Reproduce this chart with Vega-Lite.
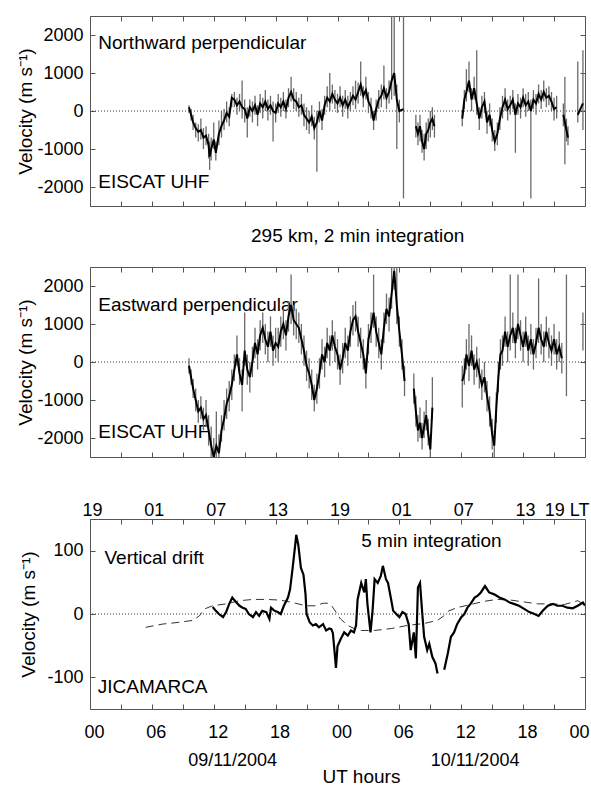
{
"$schema": "https://vega.github.io/schema/vega-lite/v6.json",
"padding": {"left": 15, "top": 15, "right": 0, "bottom": 0},
"background": "white",
"config": {
 "font": "Liberation Sans",
 "view": {"stroke": "#555555", "strokeWidth": 1},
 "axis": {"domain": false, "grid": false, "ticks": true, "tickSize": -5, "tickColor": "#555555", "labelFont": "Liberation Sans", "labelFontSize": 18, "labelColor": "black", "titleFont": "Liberation Sans", "titleFontSize": 19, "titleFontWeight": "normal", "titleColor": "black", "labelOverlap": false, "labelFlush": false},
 "title": {"font": "Liberation Sans", "fontSize": 19, "fontWeight": "normal", "color": "black"}
},
"datasets": {
 "north": [
  {"t":9.6,"v":100,"lo":-50,"hi":150,"s":1},{"t":9.8,"v":-100,"lo":-250,"hi":50,"s":1},{"t":10.0,"v":-300,"lo":-500,"hi":-100,"s":1},{"t":10.25,"v":-450,"lo":-700,"hi":-300,"s":1},{"t":10.5,"v":-550,"lo":-800,"hi":-350,"s":1},{"t":10.75,"v":-500,"lo":-750,"hi":-200,"s":1},{"t":11.0,"v":-700,"lo":-1000,"hi":-450,"s":1},{"t":11.25,"v":-650,"lo":-900,"hi":-400,"s":1},{"t":11.5,"v":-900,"lo":-1250,"hi":-600,"s":1},{"t":11.6,"v":-1200,"lo":-1550,"hi":-800,"s":1},{"t":11.75,"v":-1000,"lo":-1300,"hi":-700,"s":1},{"t":12.0,"v":-750,"lo":-1000,"hi":-300,"s":1},{"t":12.2,"v":-1100,"lo":-1300,"hi":-800,"s":1},{"t":12.5,"v":-600,"lo":-900,"hi":-250,"s":1},{"t":12.75,"v":-400,"lo":-700,"hi":0,"s":1},{"t":13.0,"v":-250,"lo":-500,"hi":50,"s":1},{"t":13.25,"v":-50,"lo":-300,"hi":250,"s":1},{"t":13.5,"v":-150,"lo":-400,"hi":100,"s":1},{"t":13.75,"v":350,"lo":100,"hi":450,"s":1},{"t":14.0,"v":300,"lo":100,"hi":500,"s":1},{"t":14.25,"v":150,"lo":-100,"hi":350,"s":1},{"t":14.5,"v":250,"lo":0,"hi":450,"s":1},{"t":14.75,"v":100,"lo":-200,"hi":800,"s":1},{"t":15.0,"v":50,"lo":-300,"hi":300,"s":1},{"t":15.25,"v":-200,"lo":-700,"hi":100,"s":1},{"t":15.5,"v":100,"lo":-150,"hi":300,"s":1},{"t":15.75,"v":0,"lo":-300,"hi":250,"s":1},{"t":16.0,"v":150,"lo":-100,"hi":400,"s":1},{"t":16.25,"v":-100,"lo":-400,"hi":150,"s":1},{"t":16.5,"v":200,"lo":-50,"hi":450,"s":1},{"t":16.75,"v":100,"lo":-200,"hi":350,"s":1},{"t":17.0,"v":250,"lo":0,"hi":550,"s":1},{"t":17.25,"v":50,"lo":-250,"hi":300,"s":1},{"t":17.5,"v":150,"lo":-100,"hi":400,"s":1},{"t":17.75,"v":0,"lo":-800,"hi":250,"s":1},{"t":18.0,"v":-50,"lo":-300,"hi":200,"s":1},{"t":18.25,"v":200,"lo":-50,"hi":450,"s":1},{"t":18.5,"v":100,"lo":-150,"hi":350,"s":1},{"t":18.75,"v":250,"lo":0,"hi":500,"s":1},{"t":19.0,"v":50,"lo":-200,"hi":300,"s":1},{"t":19.25,"v":350,"lo":100,"hi":600,"s":1},{"t":19.5,"v":500,"lo":250,"hi":900,"s":1},{"t":19.75,"v":300,"lo":50,"hi":600,"s":1},{"t":20.0,"v":250,"lo":0,"hi":500,"s":1},{"t":20.25,"v":100,"lo":-150,"hi":350,"s":1},{"t":20.5,"v":150,"lo":-100,"hi":450,"s":1},{"t":20.75,"v":-100,"lo":-400,"hi":200,"s":1},{"t":21.0,"v":-200,"lo":-500,"hi":100,"s":1},{"t":21.25,"v":-300,"lo":-600,"hi":0,"s":1},{"t":21.5,"v":-150,"lo":-400,"hi":150,"s":1},{"t":21.75,"v":-450,"lo":-750,"hi":-150,"s":1},{"t":22.0,"v":-300,"lo":-1600,"hi":0,"s":1},{"t":22.25,"v":0,"lo":-300,"hi":250,"s":1},{"t":22.5,"v":-250,"lo":-500,"hi":50,"s":1},{"t":22.75,"v":150,"lo":-100,"hi":400,"s":1},{"t":23.0,"v":350,"lo":100,"hi":650,"s":1},{"t":23.25,"v":250,"lo":0,"hi":1000,"s":1},{"t":23.5,"v":450,"lo":200,"hi":700,"s":1},{"t":23.75,"v":300,"lo":50,"hi":550,"s":1},{"t":24.0,"v":200,"lo":-50,"hi":450,"s":1},{"t":24.25,"v":350,"lo":100,"hi":650,"s":1},{"t":24.5,"v":150,"lo":-150,"hi":400,"s":1},{"t":24.75,"v":300,"lo":50,"hi":550,"s":1},{"t":25.0,"v":100,"lo":-200,"hi":400,"s":1},{"t":25.25,"v":250,"lo":0,"hi":500,"s":1},{"t":25.5,"v":400,"lo":150,"hi":650,"s":1},{"t":25.75,"v":300,"lo":50,"hi":800,"s":1},{"t":26.0,"v":500,"lo":200,"hi":750,"s":1},{"t":26.25,"v":700,"lo":400,"hi":1300,"s":1},{"t":26.5,"v":400,"lo":100,"hi":650,"s":1},{"t":26.75,"v":550,"lo":300,"hi":900,"s":1},{"t":27.0,"v":250,"lo":-50,"hi":500,"s":1},{"t":27.25,"v":100,"lo":-200,"hi":350,"s":1},{"t":27.5,"v":-250,"lo":-500,"hi":0,"s":1},{"t":27.75,"v":50,"lo":-250,"hi":300,"s":1},{"t":28.0,"v":300,"lo":50,"hi":550,"s":1},{"t":28.25,"v":400,"lo":100,"hi":700,"s":1},{"t":28.5,"v":600,"lo":300,"hi":1200,"s":1},{"t":28.75,"v":350,"lo":50,"hi":600,"s":1},{"t":29.0,"v":500,"lo":200,"hi":800,"s":1},{"t":29.25,"v":800,"lo":300,"hi":2500,"s":1},{"t":29.5,"v":1000,"lo":400,"hi":2500,"s":1},{"t":29.75,"v":300,"lo":-1000,"hi":700,"s":1},{"t":30.0,"v":0,"lo":-300,"hi":300,"s":1},{"t":30.4,"v":50,"lo":-2300,"hi":2500,"s":1},
  {"t":31.6,"v":-400,"lo":-700,"hi":-100,"s":2},{"t":31.8,"v":-600,"lo":-900,"hi":-300,"s":2},{"t":32.0,"v":-400,"lo":-800,"hi":-100,"s":2},{"t":32.2,"v":-800,"lo":-1100,"hi":-500,"s":2},{"t":32.4,"v":-1000,"lo":-1300,"hi":-600,"s":2},{"t":32.6,"v":-600,"lo":-1000,"hi":-300,"s":2},{"t":32.8,"v":-500,"lo":-800,"hi":-200,"s":2},{"t":33.0,"v":-300,"lo":-700,"hi":0,"s":2},{"t":33.2,"v":-200,"lo":-500,"hi":100,"s":2},{"t":33.4,"v":-400,"lo":-700,"hi":-100,"s":2},
  {"t":36.1,"v":-200,"lo":-400,"hi":0,"s":3},{"t":36.3,"v":300,"lo":50,"hi":550,"s":3},{"t":36.5,"v":500,"lo":250,"hi":1100,"s":3},{"t":36.75,"v":800,"lo":500,"hi":1300,"s":3},{"t":37.0,"v":300,"lo":0,"hi":600,"s":3},{"t":37.25,"v":600,"lo":300,"hi":900,"s":3},{"t":37.5,"v":200,"lo":-100,"hi":1600,"s":3},{"t":37.75,"v":-200,"lo":-500,"hi":100,"s":3},{"t":38.0,"v":100,"lo":-200,"hi":400,"s":3},{"t":38.25,"v":250,"lo":-50,"hi":500,"s":3},{"t":38.5,"v":-300,"lo":-600,"hi":0,"s":3},{"t":38.75,"v":-100,"lo":-400,"hi":200,"s":3},{"t":39.0,"v":-500,"lo":-800,"hi":-200,"s":3},{"t":39.25,"v":-800,"lo":-1050,"hi":-500,"s":3},{"t":39.5,"v":-600,"lo":-900,"hi":-300,"s":3},{"t":39.75,"v":-200,"lo":-500,"hi":100,"s":3},{"t":40.0,"v":100,"lo":-200,"hi":400,"s":3},{"t":40.25,"v":300,"lo":0,"hi":600,"s":3},{"t":40.5,"v":50,"lo":-250,"hi":300,"s":3},{"t":40.75,"v":150,"lo":-100,"hi":400,"s":3},{"t":41.0,"v":300,"lo":50,"hi":550,"s":3},{"t":41.25,"v":-100,"lo":-1100,"hi":200,"s":3},{"t":41.5,"v":200,"lo":-100,"hi":450,"s":3},{"t":41.75,"v":100,"lo":-200,"hi":350,"s":3},{"t":42.0,"v":350,"lo":100,"hi":600,"s":3},{"t":42.25,"v":150,"lo":-150,"hi":450,"s":3},{"t":42.5,"v":250,"lo":0,"hi":500,"s":3},{"t":42.75,"v":0,"lo":-2300,"hi":300,"s":3},{"t":43.0,"v":300,"lo":50,"hi":550,"s":3},{"t":43.25,"v":200,"lo":-100,"hi":450,"s":3},{"t":43.5,"v":450,"lo":200,"hi":700,"s":3},{"t":43.75,"v":300,"lo":50,"hi":550,"s":3},{"t":44.0,"v":500,"lo":250,"hi":800,"s":3},{"t":44.25,"v":350,"lo":100,"hi":600,"s":3},{"t":44.5,"v":400,"lo":150,"hi":650,"s":3},{"t":44.75,"v":250,"lo":0,"hi":500,"s":3},{"t":45.0,"v":50,"lo":-250,"hi":350,"s":3},{"t":45.25,"v":100,"lo":-200,"hi":400,"s":3},
  {"t":45.9,"v":-100,"lo":-400,"hi":200,"s":4},{"t":46.05,"v":-300,"lo":-1400,"hi":900,"s":4},{"t":46.2,"v":-500,"lo":-800,"hi":-200,"s":4},{"t":46.35,"v":-700,"lo":-900,"hi":-400,"s":4},
  {"t":47.3,"v":-100,"lo":-300,"hi":1300,"s":5},{"t":47.8,"v":200,"lo":-500,"hi":1600,"s":5}
 ],
 "east": [
  {"t":9.6,"v":-100,"lo":-300,"hi":100,"s":1},{"t":9.8,"v":-400,"lo":-600,"hi":-200,"s":1},{"t":10.0,"v":-700,"lo":-950,"hi":-450,"s":1},{"t":10.25,"v":-1000,"lo":-1300,"hi":-700,"s":1},{"t":10.5,"v":-1300,"lo":-1600,"hi":-1000,"s":1},{"t":10.75,"v":-1200,"lo":-1500,"hi":-900,"s":1},{"t":11.0,"v":-1500,"lo":-1800,"hi":-1200,"s":1},{"t":11.25,"v":-1400,"lo":-1700,"hi":-1000,"s":1},{"t":11.5,"v":-1800,"lo":-2200,"hi":-1400,"s":1},{"t":11.75,"v":-2200,"lo":-2500,"hi":-1700,"s":1},{"t":12.0,"v":-2500,"lo":-2500,"hi":-2000,"s":1},{"t":12.25,"v":-2200,"lo":-2500,"hi":-1300,"s":1},{"t":12.5,"v":-2400,"lo":-2500,"hi":-1900,"s":1},{"t":12.75,"v":-1800,"lo":-2100,"hi":-1400,"s":1},{"t":13.0,"v":-1500,"lo":-1800,"hi":-1000,"s":1},{"t":13.25,"v":-1100,"lo":-1500,"hi":-700,"s":1},{"t":13.5,"v":-900,"lo":-1300,"hi":-500,"s":1},{"t":13.75,"v":-600,"lo":-1000,"hi":-200,"s":1},{"t":14.0,"v":-200,"lo":-500,"hi":200,"s":1},{"t":14.25,"v":200,"lo":-100,"hi":700,"s":1},{"t":14.5,"v":-300,"lo":-600,"hi":100,"s":1},{"t":14.75,"v":-600,"lo":-1300,"hi":-200,"s":1},{"t":15.0,"v":300,"lo":-100,"hi":1300,"s":1},{"t":15.25,"v":-200,"lo":-600,"hi":200,"s":1},{"t":15.5,"v":-400,"lo":-800,"hi":0,"s":1},{"t":15.75,"v":0,"lo":-400,"hi":400,"s":1},{"t":16.0,"v":500,"lo":100,"hi":900,"s":1},{"t":16.25,"v":200,"lo":-200,"hi":600,"s":1},{"t":16.5,"v":700,"lo":300,"hi":1100,"s":1},{"t":16.75,"v":900,"lo":500,"hi":1300,"s":1},{"t":17.0,"v":600,"lo":200,"hi":1000,"s":1},{"t":17.25,"v":400,"lo":0,"hi":800,"s":1},{"t":17.5,"v":800,"lo":400,"hi":1200,"s":1},{"t":17.75,"v":300,"lo":-100,"hi":700,"s":1},{"t":18.0,"v":500,"lo":100,"hi":900,"s":1},{"t":18.25,"v":400,"lo":0,"hi":900,"s":1},{"t":18.5,"v":800,"lo":400,"hi":1200,"s":1},{"t":18.75,"v":1000,"lo":600,"hi":1400,"s":1},{"t":19.0,"v":700,"lo":300,"hi":1100,"s":1},{"t":19.25,"v":1200,"lo":800,"hi":1600,"s":1},{"t":19.5,"v":1500,"lo":1000,"hi":2300,"s":1},{"t":19.75,"v":1100,"lo":700,"hi":1500,"s":1},{"t":20.0,"v":1000,"lo":600,"hi":1400,"s":1},{"t":20.25,"v":900,"lo":500,"hi":1300,"s":1},{"t":20.5,"v":600,"lo":200,"hi":1000,"s":1},{"t":20.75,"v":300,"lo":-100,"hi":700,"s":1},{"t":21.0,"v":-100,"lo":-500,"hi":300,"s":1},{"t":21.25,"v":-300,"lo":-700,"hi":100,"s":1},{"t":21.5,"v":-600,"lo":-1000,"hi":-200,"s":1},{"t":21.75,"v":-1000,"lo":-1300,"hi":-600,"s":1},{"t":22.0,"v":-700,"lo":-1100,"hi":-300,"s":1},{"t":22.25,"v":-300,"lo":-700,"hi":100,"s":1},{"t":22.5,"v":200,"lo":-200,"hi":600,"s":1},{"t":22.75,"v":0,"lo":-400,"hi":400,"s":1},{"t":23.0,"v":500,"lo":100,"hi":900,"s":1},{"t":23.25,"v":300,"lo":-100,"hi":700,"s":1},{"t":23.5,"v":700,"lo":300,"hi":1100,"s":1},{"t":23.75,"v":400,"lo":0,"hi":800,"s":1},{"t":24.0,"v":200,"lo":-200,"hi":600,"s":1},{"t":24.25,"v":-200,"lo":-600,"hi":200,"s":1},{"t":24.5,"v":100,"lo":-300,"hi":500,"s":1},{"t":24.75,"v":500,"lo":100,"hi":900,"s":1},{"t":25.0,"v":300,"lo":-100,"hi":700,"s":1},{"t":25.25,"v":800,"lo":400,"hi":1200,"s":1},{"t":25.5,"v":1100,"lo":700,"hi":1500,"s":1},{"t":25.75,"v":1200,"lo":800,"hi":1600,"s":1},{"t":26.0,"v":800,"lo":400,"hi":1200,"s":1},{"t":26.25,"v":500,"lo":100,"hi":900,"s":1},{"t":26.5,"v":200,"lo":-200,"hi":600,"s":1},{"t":26.75,"v":-300,"lo":-700,"hi":100,"s":1},{"t":27.0,"v":600,"lo":200,"hi":1000,"s":1},{"t":27.25,"v":900,"lo":500,"hi":1300,"s":1},{"t":27.5,"v":1300,"lo":900,"hi":2300,"s":1},{"t":27.75,"v":800,"lo":400,"hi":1200,"s":1},{"t":28.0,"v":500,"lo":100,"hi":900,"s":1},{"t":28.25,"v":200,"lo":-200,"hi":600,"s":1},{"t":28.5,"v":900,"lo":500,"hi":1300,"s":1},{"t":28.75,"v":1400,"lo":1000,"hi":1800,"s":1},{"t":29.0,"v":1200,"lo":800,"hi":1700,"s":1},{"t":29.25,"v":1800,"lo":1400,"hi":2500,"s":1},{"t":29.5,"v":2400,"lo":1900,"hi":2500,"s":1},{"t":29.75,"v":1500,"lo":1000,"hi":2500,"s":1},{"t":30.0,"v":800,"lo":400,"hi":1200,"s":1},{"t":30.25,"v":200,"lo":-200,"hi":600,"s":1},{"t":30.5,"v":-500,"lo":-900,"hi":-100,"s":1},
  {"t":31.4,"v":-700,"lo":-1100,"hi":-300,"s":2},{"t":31.6,"v":-1300,"lo":-1700,"hi":-900,"s":2},{"t":31.8,"v":-1800,"lo":-2100,"hi":-1400,"s":2},{"t":32.0,"v":-1600,"lo":-2000,"hi":-1200,"s":2},{"t":32.2,"v":-2000,"lo":-2300,"hi":-1600,"s":2},{"t":32.4,"v":-1700,"lo":-2000,"hi":-1300,"s":2},{"t":32.6,"v":-1400,"lo":-1800,"hi":-1000,"s":2},{"t":32.8,"v":-1900,"lo":-2200,"hi":-1500,"s":2},{"t":33.0,"v":-2300,"lo":-2500,"hi":-1900,"s":2},{"t":33.2,"v":-1200,"lo":-1500,"hi":-400,"s":2},
  {"t":36.1,"v":-500,"lo":-1200,"hi":-100,"s":3},{"t":36.3,"v":-300,"lo":-600,"hi":100,"s":3},{"t":36.5,"v":200,"lo":-200,"hi":600,"s":3},{"t":36.75,"v":-100,"lo":-500,"hi":1000,"s":3},{"t":37.0,"v":300,"lo":-100,"hi":700,"s":3},{"t":37.25,"v":-200,"lo":-600,"hi":200,"s":3},{"t":37.5,"v":0,"lo":-400,"hi":400,"s":3},{"t":37.75,"v":-300,"lo":-700,"hi":100,"s":3},{"t":38.0,"v":-600,"lo":-1000,"hi":-200,"s":3},{"t":38.25,"v":-400,"lo":-800,"hi":0,"s":3},{"t":38.5,"v":-900,"lo":-1300,"hi":-500,"s":3},{"t":38.75,"v":-1300,"lo":-1700,"hi":-900,"s":3},{"t":39.0,"v":-1900,"lo":-2300,"hi":-1500,"s":3},{"t":39.2,"v":-2200,"lo":-2500,"hi":-1800,"s":3},{"t":39.4,"v":-1200,"lo":-1600,"hi":-800,"s":3},{"t":39.6,"v":-400,"lo":-800,"hi":0,"s":3},{"t":39.8,"v":200,"lo":-200,"hi":600,"s":3},{"t":40.0,"v":300,"lo":-100,"hi":700,"s":3},{"t":40.25,"v":800,"lo":400,"hi":1200,"s":3},{"t":40.5,"v":400,"lo":0,"hi":800,"s":3},{"t":40.75,"v":700,"lo":300,"hi":2300,"s":3},{"t":41.0,"v":900,"lo":500,"hi":1300,"s":3},{"t":41.25,"v":500,"lo":100,"hi":900,"s":3},{"t":41.5,"v":1000,"lo":600,"hi":2300,"s":3},{"t":41.75,"v":700,"lo":300,"hi":1100,"s":3},{"t":42.0,"v":400,"lo":0,"hi":800,"s":3},{"t":42.25,"v":800,"lo":400,"hi":1200,"s":3},{"t":42.5,"v":300,"lo":-100,"hi":700,"s":3},{"t":42.75,"v":600,"lo":200,"hi":1000,"s":3},{"t":43.0,"v":200,"lo":-200,"hi":600,"s":3},{"t":43.25,"v":500,"lo":100,"hi":900,"s":3},{"t":43.5,"v":900,"lo":500,"hi":2200,"s":3},{"t":43.75,"v":600,"lo":200,"hi":1000,"s":3},{"t":44.0,"v":400,"lo":0,"hi":800,"s":3},{"t":44.25,"v":800,"lo":400,"hi":1200,"s":3},{"t":44.5,"v":500,"lo":100,"hi":900,"s":3},{"t":44.75,"v":300,"lo":-100,"hi":700,"s":3},{"t":45.0,"v":600,"lo":200,"hi":1000,"s":3},{"t":45.25,"v":200,"lo":-200,"hi":600,"s":3},{"t":45.5,"v":400,"lo":0,"hi":800,"s":3},{"t":45.75,"v":100,"lo":-300,"hi":500,"s":3},
  {"t":46.2,"v":500,"lo":-900,"hi":2300,"s":4},
  {"t":47.8,"v":1000,"lo":300,"hi":1300,"s":5}
 ],
 "drift": [
  {"t":11.9,"v":11,"s":1},{"t":12.2,"v":5,"s":1},{"t":12.5,"v":0,"s":1},{"t":12.9,"v":-5,"s":1},{"t":13.2,"v":3,"s":1},{"t":13.5,"v":16,"s":1},{"t":13.8,"v":26,"s":1},{"t":14.2,"v":18,"s":1},{"t":14.5,"v":13,"s":1},{"t":14.8,"v":10,"s":1},{"t":15.1,"v":8,"s":1},{"t":15.4,"v":0,"s":1},{"t":15.8,"v":-5,"s":1},{"t":16.1,"v":3,"s":1},{"t":16.4,"v":-3,"s":1},{"t":16.7,"v":5,"s":1},{"t":17.1,"v":3,"s":1},{"t":17.4,"v":-8,"s":1},{"t":17.55,"v":10,"s":1},{"t":17.9,"v":5,"s":1},{"t":18.2,"v":3,"s":1},{"t":18.5,"v":0,"s":1},{"t":18.8,"v":13,"s":1},{"t":19.2,"v":26,"s":1},{"t":19.4,"v":39,"s":1},{"t":19.65,"v":73,"s":1},{"t":19.9,"v":109,"s":1},{"t":20.0,"v":125,"s":1},{"t":20.2,"v":109,"s":1},{"t":20.45,"v":73,"s":1},{"t":20.7,"v":62,"s":1},{"t":20.9,"v":31,"s":1},{"t":21.0,"v":0,"s":1},{"t":21.3,"v":-13,"s":1},{"t":21.6,"v":-18,"s":1},{"t":21.9,"v":-16,"s":1},{"t":22.2,"v":-21,"s":1},{"t":22.6,"v":-16,"s":1},{"t":22.9,"v":-26,"s":1},{"t":23.2,"v":-23,"s":1},{"t":23.4,"v":-24,"s":1},{"t":23.55,"v":-30,"s":1},{"t":23.7,"v":-57,"s":1},{"t":23.85,"v":-85,"s":1},{"t":24.0,"v":-51,"s":1},{"t":24.3,"v":-40,"s":1},{"t":24.65,"v":-29,"s":1},{"t":25.0,"v":-34,"s":1},{"t":25.3,"v":-26,"s":1},{"t":25.6,"v":-29,"s":1},{"t":25.8,"v":-18,"s":1},{"t":25.95,"v":23,"s":1},{"t":26.3,"v":49,"s":1},{"t":26.6,"v":34,"s":1},{"t":26.75,"v":55,"s":1},{"t":26.9,"v":16,"s":1},{"t":27.2,"v":-29,"s":1},{"t":27.4,"v":5,"s":1},{"t":27.6,"v":55,"s":1},{"t":27.9,"v":49,"s":1},{"t":28.2,"v":60,"s":1},{"t":28.4,"v":76,"s":1},{"t":28.7,"v":55,"s":1},{"t":28.9,"v":49,"s":1},{"t":29.2,"v":23,"s":1},{"t":29.4,"v":5,"s":1},{"t":29.7,"v":0,"s":1},{"t":30.0,"v":-5,"s":1},{"t":30.3,"v":3,"s":1},{"t":30.6,"v":0,"s":1},{"t":30.9,"v":-16,"s":1},{"t":31.1,"v":-57,"s":1},{"t":31.4,"v":-29,"s":1},{"t":31.6,"v":-70,"s":1},{"t":31.8,"v":42,"s":1},{"t":32.0,"v":49,"s":1},{"t":32.2,"v":5,"s":1},{"t":32.4,"v":-36,"s":1},{"t":32.7,"v":-57,"s":1},{"t":32.9,"v":-47,"s":1},{"t":33.2,"v":-68,"s":1},{"t":33.5,"v":-78,"s":1},{"t":33.7,"v":-94,"s":1},
  {"t":34.35,"v":-88,"s":2},{"t":34.7,"v":-62,"s":2},{"t":35.0,"v":-36,"s":2},{"t":35.3,"v":-29,"s":2},{"t":35.6,"v":-16,"s":2},{"t":36.0,"v":-5,"s":2},{"t":36.3,"v":0,"s":2},{"t":36.6,"v":10,"s":2},{"t":36.9,"v":16,"s":2},{"t":37.3,"v":26,"s":2},{"t":37.6,"v":29,"s":2},{"t":37.9,"v":34,"s":2},{"t":38.3,"v":44,"s":2},{"t":38.7,"v":34,"s":2},{"t":39.2,"v":31,"s":2},{"t":39.7,"v":26,"s":2},{"t":40.2,"v":23,"s":2},{"t":40.7,"v":18,"s":2},{"t":41.1,"v":16,"s":2},{"t":41.6,"v":13,"s":2},{"t":42.1,"v":8,"s":2},{"t":42.6,"v":3,"s":2},{"t":43.1,"v":0,"s":2},{"t":43.5,"v":-3,"s":2},{"t":43.9,"v":5,"s":2},{"t":44.4,"v":13,"s":2},{"t":44.9,"v":16,"s":2},{"t":45.3,"v":13,"s":2},{"t":45.8,"v":13,"s":2},{"t":46.3,"v":10,"s":2},{"t":46.8,"v":9,"s":2},{"t":47.3,"v":13,"s":2},{"t":47.8,"v":18,"s":2},{"t":48.0,"v":13,"s":2}
 ],
 "model": [
  {"t":5.4,"v":-21},{"t":7.0,"v":-16},{"t":8.7,"v":-13},{"t":10.0,"v":-10},{"t":10.6,"v":-3},{"t":11.1,"v":8},{"t":11.9,"v":13},{"t":13.2,"v":16},{"t":14.5,"v":21},{"t":15.8,"v":23},{"t":17.1,"v":23},{"t":18.4,"v":22},{"t":19.7,"v":18},{"t":20.9,"v":13},{"t":21.9,"v":13},{"t":22.6,"v":17},{"t":23.0,"v":17},{"t":23.4,"v":14},{"t":23.85,"v":3},{"t":24.3,"v":-8},{"t":25.0,"v":-18},{"t":25.6,"v":-23},{"t":26.3,"v":-26},{"t":27.6,"v":-26},{"t":29.2,"v":-23},{"t":30.8,"v":-18},{"t":32.4,"v":-15},{"t":33.7,"v":-10},{"t":34.3,"v":-3},{"t":34.8,"v":5},{"t":35.6,"v":10},{"t":36.9,"v":15},{"t":38.2,"v":20},{"t":39.5,"v":23},{"t":40.8,"v":22},{"t":42.1,"v":19},{"t":43.4,"v":16},{"t":44.7,"v":16},{"t":46.0,"v":15},{"t":47.3,"v":21},{"t":47.6,"v":18},{"t":48.0,"v":15}
 ],
 "ann1": [{"t":0.8,"v":1780,"label":"Northward perpendicular"},{"t":0.8,"v":-1860,"label":"EISCAT UHF"}],
 "ann2": [{"t":0.8,"v":1490,"label":"Eastward perpendicular"},{"t":0.8,"v":-1840,"label":"EISCAT UHF"}],
 "ann3": [{"t":1.4,"v":89,"label":"Vertical drift"},{"t":0.75,"v":-116,"label":"JICAMARCA"},{"t":26.3,"v":116,"label":"5 min integration"}]
},
"spacing": 42,
"vconcat": [
 {
  "spacing": 19,
  "vconcat": [
   {
    "width": 495, "height": 190,
    "resolve": {"scale": {"x": "independent", "y": "independent"}},
    "layer": [
     {"data": {"name": "ann1"},
      "mark": {"type": "text", "align": "left", "baseline": "middle", "fontSize": 19, "font": "Liberation Sans", "color": "black"},
      "encoding": {
       "x": {"field": "t", "type": "quantitative", "scale": {"domain": [0, 48], "nice": false, "zero": false}, "axis": {"orient": "top", "values": [0,3,6,9,12,15,18,21,24,27,30,33,36,39,42,45,48], "labels": false, "title": null}},
       "y": {"field": "v", "type": "quantitative", "scale": {"domain": [-2500, 2500], "nice": false}, "axis": {"orient": "right", "values": [-2000,-1000,0,1000,2000], "labels": false, "title": null}},
       "text": {"field": "label"}
      }},
     {"data": {"values": [{}]},
      "mark": {"type": "rule", "color": "#333333", "strokeDash": [1, 2], "strokeWidth": 1},
      "encoding": {"y": {"datum": 0, "type": "quantitative", "scale": {"domain": [-2500, 2500], "nice": false}, "axis": null}}},
     {"data": {"name": "north"},
      "mark": {"type": "rule", "color": "#6a6a6a", "strokeWidth": 1.3, "clip": true},
      "encoding": {
       "x": {"field": "t", "type": "quantitative", "scale": {"domain": [0, 48], "nice": false, "zero": false}, "axis": {"orient": "bottom", "values": [0,3,6,9,12,15,18,21,24,27,30,33,36,39,42,45,48], "labels": false, "title": null}},
       "y": {"field": "lo", "type": "quantitative", "scale": {"domain": [-2500, 2500], "nice": false}, "axis": {"orient": "left", "values": [-2000,-1000,0,1000,2000], "labelExpr": "'' + datum.value", "labelPadding": 12, "title": "Velocity (m s⁻¹)", "titleX": -55, "titleAngle": 270, "titleBaseline": "bottom", "titleAlign": "center"}},
       "y2": {"field": "hi"}
      }},
     {"data": {"name": "north"},
      "mark": {"type": "line", "color": "black", "strokeWidth": 2, "clip": true},
      "encoding": {
       "x": {"field": "t", "type": "quantitative", "scale": {"domain": [0, 48], "nice": false, "zero": false}, "axis": null},
       "y": {"field": "v", "type": "quantitative", "scale": {"domain": [-2500, 2500], "nice": false}, "axis": null},
       "detail": {"field": "s", "type": "nominal"}
      }}
    ]
   },
   {
    "width": 495, "height": 190,
    "title": {"text": "295 km, 2 min integration", "anchor": "start", "dx": 235, "offset": 6, "baseline": "alphabetic", "fontSize": 19, "fontWeight": "normal", "color": "black"},
    "resolve": {"scale": {"x": "independent", "y": "independent"}},
    "layer": [
     {"data": {"name": "ann2"},
      "mark": {"type": "text", "align": "left", "baseline": "middle", "fontSize": 19, "font": "Liberation Sans", "color": "black"},
      "encoding": {
       "x": {"field": "t", "type": "quantitative", "scale": {"domain": [0, 48], "nice": false, "zero": false}, "axis": {"orient": "top", "values": [0,3,6,9,12,15,18,21,24,27,30,33,36,39,42,45,48], "labels": false, "title": null}},
       "y": {"field": "v", "type": "quantitative", "scale": {"domain": [-2500, 2500], "nice": false}, "axis": {"orient": "right", "values": [-2000,-1000,0,1000,2000], "labels": false, "title": null}},
       "text": {"field": "label"}
      }},
     {"data": {"values": [{}]},
      "mark": {"type": "rule", "color": "#333333", "strokeDash": [1, 2], "strokeWidth": 1},
      "encoding": {"y": {"datum": 0, "type": "quantitative", "scale": {"domain": [-2500, 2500], "nice": false}, "axis": null}}},
     {"data": {"name": "east"},
      "mark": {"type": "rule", "color": "#6a6a6a", "strokeWidth": 1.3, "clip": true},
      "encoding": {
       "x": {"field": "t", "type": "quantitative", "scale": {"domain": [0, 48], "nice": false, "zero": false}, "axis": {"orient": "bottom", "values": [0,3,6,9,12,15,18,21,24,27,30,33,36,39,42,45,48], "labels": false, "title": null}},
       "y": {"field": "lo", "type": "quantitative", "scale": {"domain": [-2500, 2500], "nice": false}, "axis": {"orient": "left", "values": [-2000,-1000,0,1000,2000], "labelExpr": "'' + datum.value", "labelPadding": 12, "title": "Velocity (m s⁻¹)", "titleX": -55, "titleAngle": 270, "titleBaseline": "bottom", "titleAlign": "center"}},
       "y2": {"field": "hi"}
      }},
     {"data": {"name": "east"},
      "mark": {"type": "line", "color": "black", "strokeWidth": 2, "clip": true},
      "encoding": {
       "x": {"field": "t", "type": "quantitative", "scale": {"domain": [0, 48], "nice": false, "zero": false}, "axis": null},
       "y": {"field": "v", "type": "quantitative", "scale": {"domain": [-2500, 2500], "nice": false}, "axis": null},
       "detail": {"field": "s", "type": "nominal"}
      }}
    ]
   }
  ]
 },
 {
  "width": 495, "height": 190,
  "resolve": {"scale": {"x": "independent", "y": "independent"}},
  "layer": [
   {"data": {"name": "ann3"},
    "mark": {"type": "text", "align": "left", "baseline": "middle", "fontSize": 19, "font": "Liberation Sans", "color": "black"},
    "encoding": {
     "x": {"field": "t", "type": "quantitative", "scale": {"domain": [0, 48], "nice": false, "zero": false}, "axis": {"orient": "top", "values": [0,3,6,9,12,15,18,21,24,27,30,33,36,39,42,45,48], "labelExpr": "datum.value % 6 == 0 ? (datum.value == 48 ? '19 LT' : (((datum.value + 19) % 24) < 10 ? '0' : '') + ((datum.value + 19) % 24)) : ''", "labelBaseline": "alphabetic", "labelPadding": 9, "labelOffset": {"condition": {"test": "datum.value == 48", "value": 4}, "value": 2}, "labelAlign": {"condition": {"test": "datum.value == 48", "value": "right"}, "value": "center"}, "title": null}},
     "y": {"field": "v", "type": "quantitative", "scale": {"domain": [-150, 150], "nice": false}, "axis": {"orient": "right", "values": [-100, 0, 100], "labels": false, "title": null}},
     "text": {"field": "label"}
    }},
   {"data": {"values": [{}]},
    "mark": {"type": "rule", "color": "#333333", "strokeDash": [1, 2], "strokeWidth": 1},
    "encoding": {"y": {"datum": 0, "type": "quantitative", "scale": {"domain": [-150, 150], "nice": false}, "axis": null}}},
   {"data": {"name": "model"},
    "mark": {"type": "line", "color": "#333333", "strokeWidth": 1, "strokeDash": [8, 5], "clip": true},
    "encoding": {
     "x": {"field": "t", "type": "quantitative", "scale": {"domain": [0, 48], "nice": false, "zero": false}, "axis": null},
     "y": {"field": "v", "type": "quantitative", "scale": {"domain": [-150, 150], "nice": false}, "axis": null}
    }},
   {"data": {"name": "drift"},
    "mark": {"type": "line", "color": "black", "strokeWidth": 2.2, "clip": true},
    "encoding": {
     "x": {"field": "t", "type": "quantitative", "scale": {"domain": [0, 48], "nice": false, "zero": false}, "axis": {"orient": "bottom", "values": [0,3,6,9,12,15,18,21,24,27,30,33,36,39,42,45,48,13.4,36.9], "labelExpr": "datum.value == 13.4 ? ['', '09/11/2004'] : datum.value == 36.9 ? ['', '10/11/2004'] : (datum.value % 6 == 0 ? ((datum.value % 24) < 10 ? '0' : '') + (datum.value % 24) : '')", "labelBaseline": "alphabetic", "labelPadding": 33, "labelLineHeight": 28, "labelOffset": {"condition": {"test": "datum.value == 48", "value": -6}, "value": 4}, "tickOpacity": {"condition": {"test": "datum.value == 13.4 || datum.value == 36.9", "value": 0}, "value": 1}, "title": "UT hours", "titleX": 271, "titleY": 73, "titleBaseline": "alphabetic", "titleAlign": "center", "titleAngle": 0}},
     "y": {"field": "v", "type": "quantitative", "scale": {"domain": [-150, 150], "nice": false}, "axis": {"orient": "left", "values": [-100, 0, 100], "labelExpr": "'' + datum.value", "labelPadding": 12, "title": "Velocity (m s⁻¹)", "titleX": -52, "titleAngle": 270, "titleBaseline": "bottom", "titleAlign": "center"}},
     "detail": {"field": "s", "type": "nominal"}
    }}
  ]
 }
]
}
